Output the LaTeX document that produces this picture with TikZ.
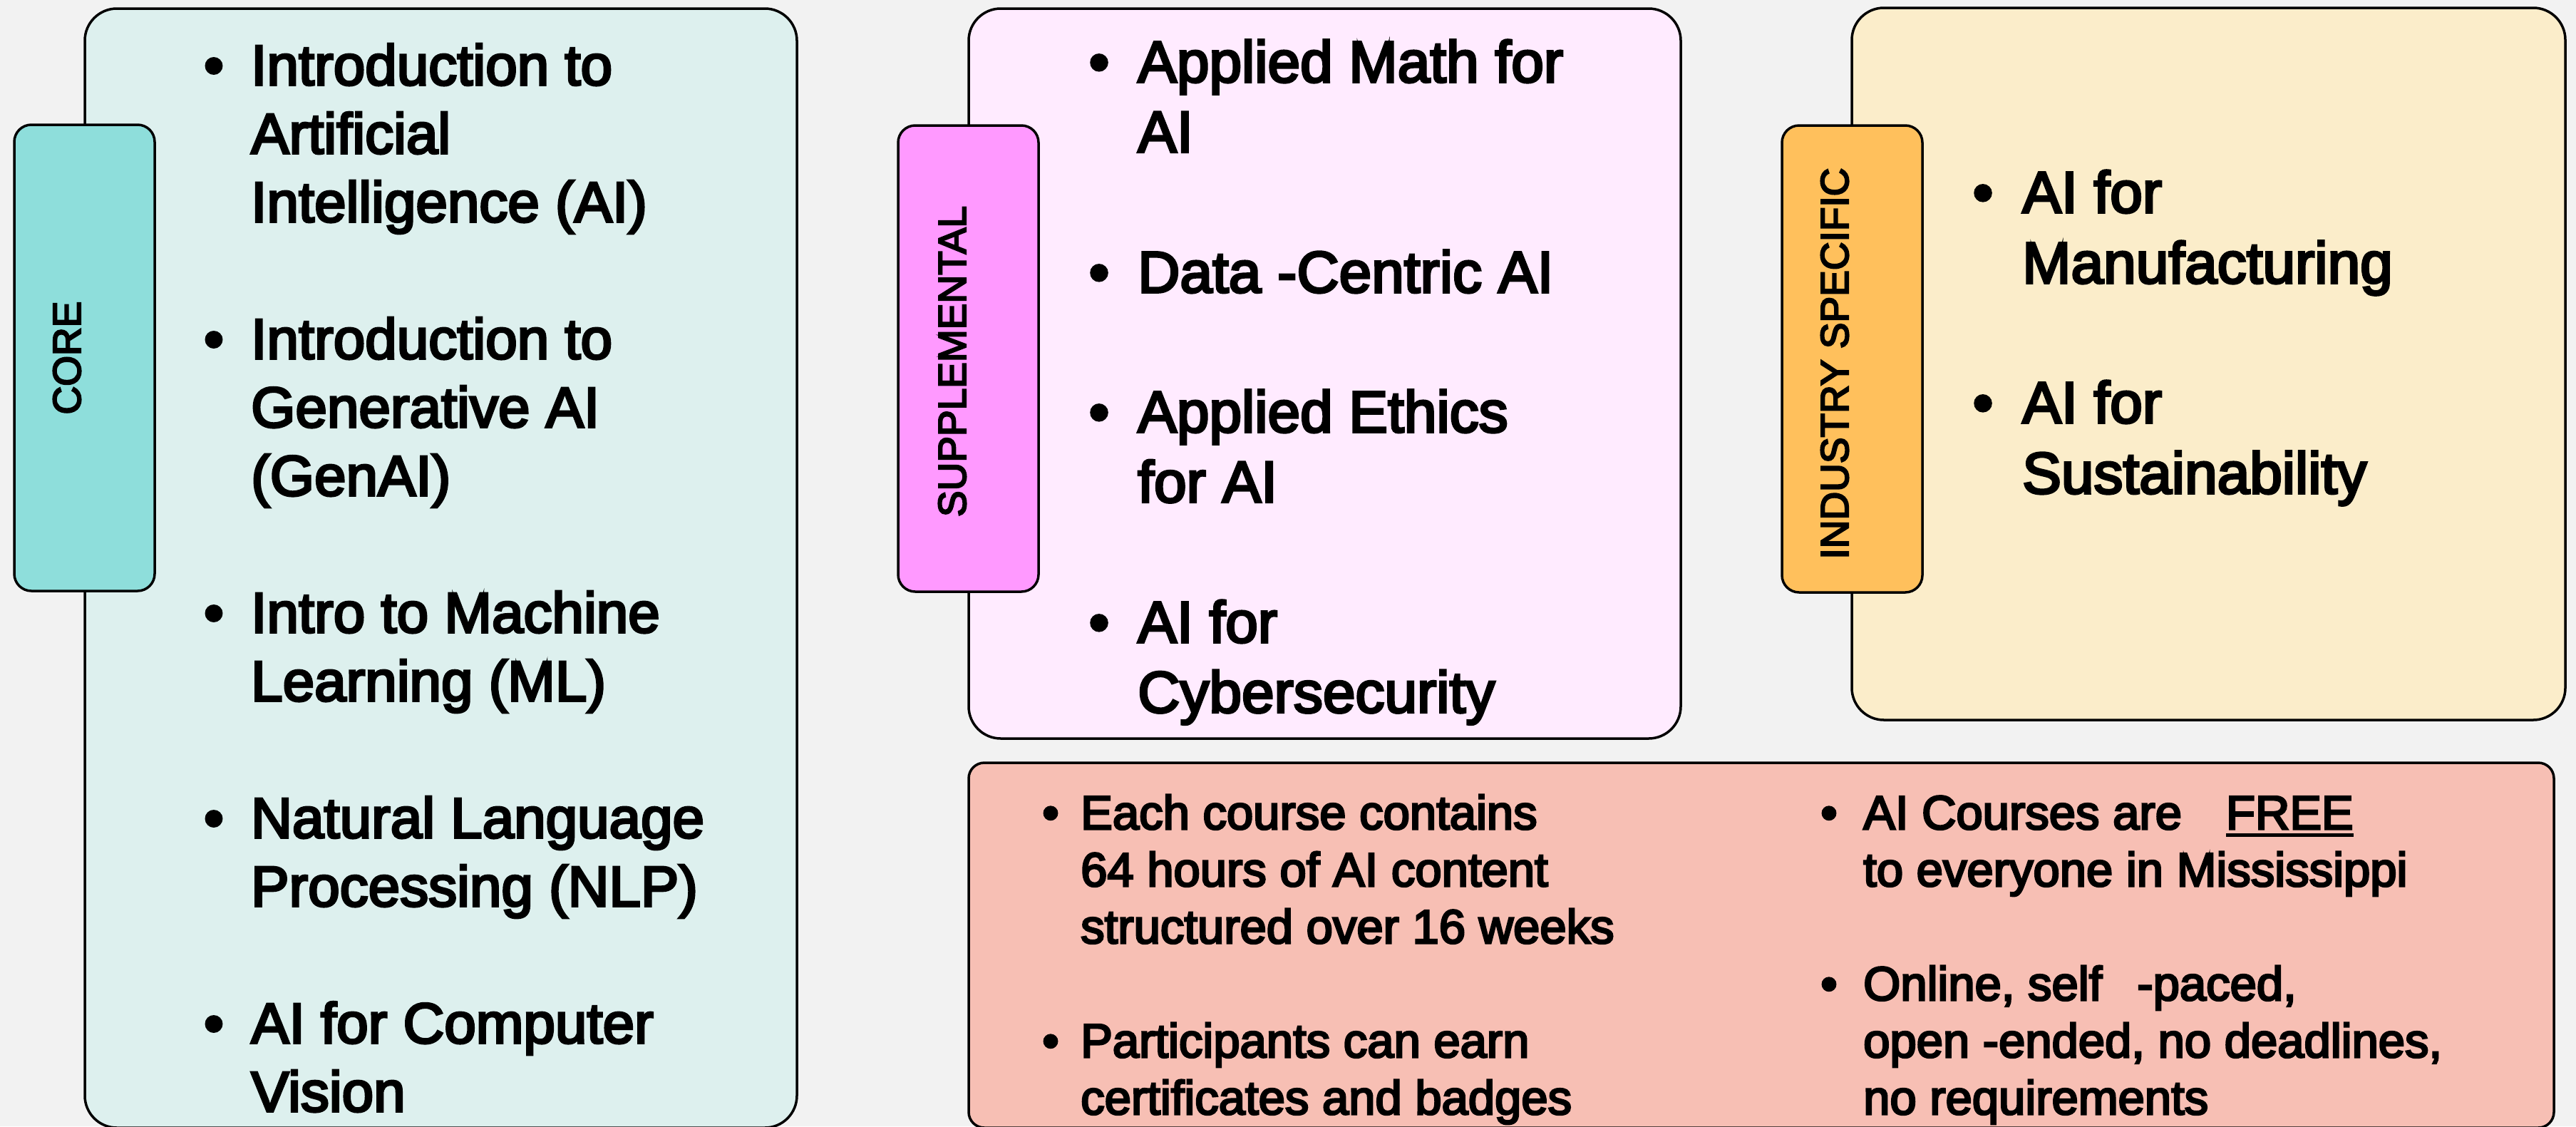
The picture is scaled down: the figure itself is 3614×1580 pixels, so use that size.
\documentclass[tikz,border=0pt]{standalone}
\usepackage{fontspec}
\setmainfont{Liberation Sans}[FakeBold=4]
\definecolor{bgc}{HTML}{F2F2F2}
\definecolor{coreFill}{HTML}{DDF0EE}
\definecolor{coreTab}{HTML}{8EDEDB}
\definecolor{suppFill}{HTML}{FFEBFF}
\definecolor{suppTab}{HTML}{FF99FF}
\definecolor{indFill}{HTML}{FBEDCA}
\definecolor{indTab}{HTML}{FFC05C}
\definecolor{botFill}{HTML}{F7BFB4}
\tikzset{
  box/.style={draw=black, line width=3.5pt, rounded corners=45pt},
  tabbox/.style={draw=black, line width=3.5pt, rounded corners=24pt},
  bul/.style={anchor=base, inner sep=0pt},
  itm/.style={anchor=north west, inner sep=0pt, align=left},
  lbl/.style={rotate=90, inner sep=0pt, font=\fontsize{55}{66}\selectfont},
}
\newcommand\bitem[5]{%
  \node[bul] (#1b) at (#2,#4) {\textbullet};
  \node[itm] (#1) at (#3,#4-100) {\rule{0pt}{100pt}#5};
}
\newcommand\ulx[1]{\setbox0=\hbox{#1}\rlap{\rule[-10.8pt]{\wd0}{5pt}}\box0}
\begin{document}
\begin{tikzpicture}[x=1pt,y=-1pt]
\fill[bgc] (0,0) rectangle (3614,1580);
\useasboundingbox (0,0) rectangle (3614,1580);

% boxes
\draw[box, fill=coreFill] (119,12) rectangle (1118,1582);
\draw[tabbox, fill=coreTab] (20,175) rectangle (217,829);
\node[lbl] (coreLbl) at (94,502) {CORE};

\draw[box, fill=suppFill] (1359,12) rectangle (2358,1036);
\draw[tabbox, fill=suppTab] (1260,176) rectangle (1457,830);
\node[lbl] (suppLbl) at (1336,507) {SUPPLEMENTAL};

\draw[box, fill=indFill] (2598,11) rectangle (3599,1010);
\draw[tabbox, fill=indTab] (2500,176) rectangle (2697,831);
\node[lbl] (indLbl) at (2574,510) {INDUSTRY SPECIFIC};

\draw[box, rounded corners=22pt, fill=botFill] (1359,1070) rectangle (3583,1582);

% core items
\begin{scope}[font=\fontsize{80}{96}\selectfont]
\bitem{c1}{300}{352}{119}{Introduction to\\Artificial\\Intelligence (AI)}
\bitem{c2}{300}{352}{503}{Introduction to\\Generative AI\\(GenAI)}
\bitem{c3}{300}{352}{887}{Intro to Machine\\Learning (ML)}
\bitem{c4}{300}{352}{1175}{Natural Language\\Processing (NLP)}
\bitem{c5}{300}{352}{1463}{AI for Computer\\Vision}
\end{scope}

% supplemental items
\begin{scope}[font=\fontsize{82}{98.3}\selectfont]
\bitem{s1}{1542}{1596}{115}{Applied Math for\\AI}
\bitem{s2}{1542}{1596}{410}{Data -Centric AI}
\bitem{s3}{1542}{1596}{606}{Applied Ethics\\for AI}
\bitem{s4}{1542}{1596}{901}{AI for\\Cybersecurity}
\end{scope}

% industry items
\begin{scope}[font=\fontsize{82}{99}\selectfont]
\bitem{i1}{2782}{2837}{298}{AI for\\Manufacturing}
\bitem{i2}{2782}{2837}{593}{AI for\\Sustainability}
\end{scope}

% bottom items
\begin{scope}[font=\fontsize{67}{80}\selectfont]
\bitem{b1}{1474}{1516}{1163}{Each course contains\\64 hours of AI content\\structured over 16 weeks}
\bitem{b2}{1474}{1516}{1483}{Participants can earn\\certificates and badges}
\bitem{b3}{2566}{2614}{1163}{AI Courses are\hspace{62pt}\ulx{FREE}\\to everyone in Mississippi}
\bitem{b4}{2566}{2614}{1403}{Online, self\hspace{49pt}-paced,\\open -ended, no deadlines,\\no requirements}
\end{scope}
\end{tikzpicture}
\end{document}
